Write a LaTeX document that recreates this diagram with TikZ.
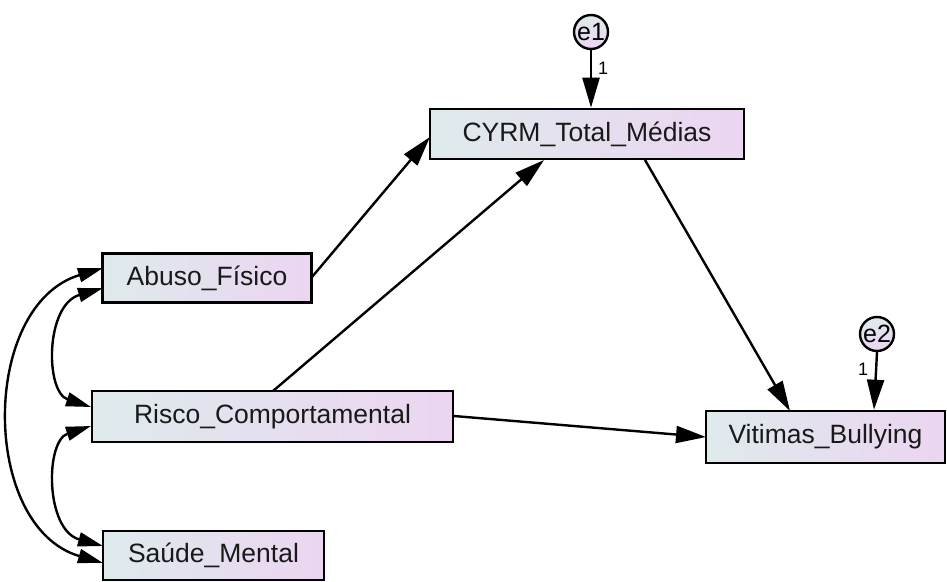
\documentclass[tikz,border=0pt]{standalone}
\usepackage{fontspec}
\setmainfont{Liberation Sans}
\usetikzlibrary{arrows.meta,calc}
\definecolor{lgreen}{RGB}{222,234,236}
\definecolor{lpink}{RGB}{236,213,241}
\begin{document}
\begin{tikzpicture}[x=1pt,y=-1pt,
  box/.style={draw=black, line width=2.6pt, rectangle, left color=lgreen, right color=lpink,
    inner sep=0pt, font=\fontsize{26.5}{30}\selectfont, text=black!90},
  errc/.style={draw=black, line width=2.4pt, circle, top color=lgreen, bottom color=lpink,
    inner sep=0pt, minimum size=34pt, font=\fontsize{25}{28}\selectfont},
  path/.style={line width=2.4pt, -{Triangle[length=30pt,width=17pt]}},
  cov/.style={line width=2.4pt, {Triangle[length=25pt,width=14pt]}-{Triangle[length=25pt,width=14pt]}},
  one/.style={font=\fontsize{18}{20}\selectfont}]
\useasboundingbox (0,0) rectangle (947,581);
\node[box, minimum width=314pt, minimum height=50pt] (cyrm) at (587,134) {CYRM\_Total\_Médias};
\node[box, minimum width=209pt, minimum height=49pt] (abuso) at (207,278) {Abuso\_Físico};
\node[box, minimum width=361pt, minimum height=51pt] (risco) at (272.5,416.5) {Risco\_Comportamental};
\node[box, minimum width=221pt, minimum height=49pt] (saude) at (213.5,555.5) {Saúde\_Mental};
\node[box, minimum width=239pt, minimum height=52pt] (vit) at (825.5,437) {Vitimas\_Bullying};
\node[errc] (e1) at (591,32) {e1};
\node[errc] (e2) at (877,334) {e2};
% paths
\draw[path] (e1.south) -- (cyrm.north -| e1.south);
\node[one] (l1) at (603,68) {1};
\draw[path] (e2.south) -- ($(vit.north -| e2.south)+(-3,0)$);
\node[one] (l2) at (863,369) {1};
\coordinate (aout) at (312,277);
\coordinate (cin1) at (430,137);
\draw[path] (aout) -- (cin1);
\coordinate (rout) at (273,391);
\coordinate (cin2) at (544,160);
\draw[path] (rout) -- (cin2);
\coordinate (cout) at (645,160);
\coordinate (vin1) at (790,411);
\draw[path] (cout) -- (vin1);
\coordinate (rout2) at (454,416);
\coordinate (vin2) at (706,437);
\draw[path] (rout2) -- (vin2);
% covariances
\coordinate (a1) at (103,288);
\coordinate (r1) at (91,407);
\coordinate (r2) at (91,426);
\coordinate (s1) at (103,546);
\coordinate (a2) at (103,268);
\coordinate (s2) at (103,563);
\draw[cov] (a1) .. controls (45,305) and (45,392) .. (r1);
\draw[cov] (r2) .. controls (45,441) and (45,530) .. (s1);
\draw[cov] (a2) .. controls (-20,305) and (-20,527) .. (s2);
\end{tikzpicture}
\end{document}
